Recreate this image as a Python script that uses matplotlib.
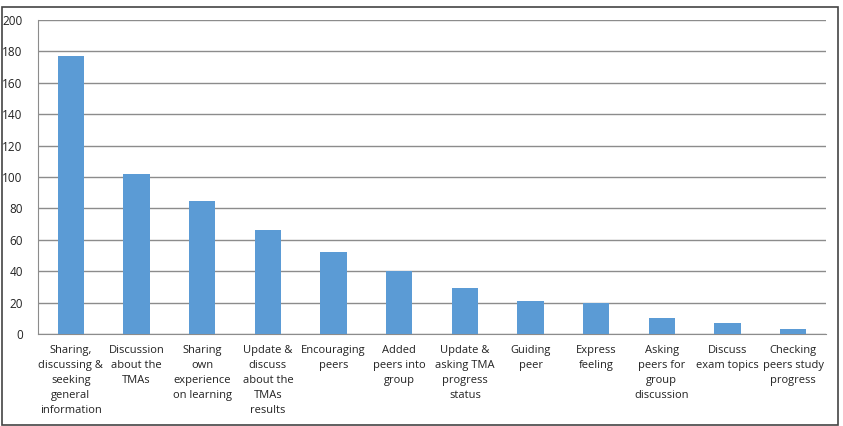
import matplotlib
matplotlib.use("Agg")
import matplotlib.pyplot as plt
import numpy as np
from matplotlib.patches import Rectangle

# ── Data ───────────────────────────────────────────────────────────────────────
categories = [
    "Sharing,\ndiscussing &\nseeking\ngeneral\ninformation",
    "Discussion\nabout the\nTMAs",
    "Sharing\nown\nexperience\non learning",
    "Update &\ndiscuss\nabout the\nTMAs\nresults",
    "Encouraging\npeers",
    "Added\npeers into\ngroup",
    "Update &\nasking TMA\nprogress\nstatus",
    "Guiding\npeer",
    "Express\nfeeling",
    "Asking\npeers for\ngroup\ndiscussion",
    "Discuss\nexam topics",
    "Checking\npeers study\nprogress",
]
counts = [177, 102, 85, 66, 52, 40, 29, 21, 20, 10, 7, 3]
yticks = [0, 20, 40, 60, 80, 100, 120, 140, 160, 180, 200]

# ── Style ──────────────────────────────────────────────────────────────────────
plt.rcParams.update({
    "font.family": ["Open Sans", "DejaVu Sans"],
    "font.size": 8,
})
BAR = "#5b9bd5"
GRID = "#8c8c8c"

fig = plt.figure(figsize=(8.43, 4.26), dpi=100)
ax = fig.add_axes([38 / 843, 1 - 334 / 426, (826 - 38) / 843, (334 - 20) / 426])

x = np.arange(len(counts))
ax.bar(x, counts, width=0.4, color=BAR, zorder=3)

ax.set_xlim(-0.5, len(counts) - 0.5)
ax.set_ylim(0, 200)
ax.set_yticks(yticks)
ax.set_xticks(x)
ax.set_xticklabels(categories, linespacing=1.5)
ax.yaxis.grid(True, color=GRID, linewidth=1, zorder=0)
ax.tick_params(axis="both", length=0, colors="#222222")
ax.tick_params(axis="y", pad=11, labelsize=8.5)
ax.tick_params(axis="x", pad=8)

for s in ["top", "right"]:
    ax.spines[s].set_visible(False)
ax.spines["left"].set_color(GRID)
ax.spines["bottom"].set_color(GRID)

# outer frame round the chart
fig.patches.append(Rectangle((2 / 843, 1 / 426), 836 / 843, 418 / 426,
                             transform=fig.transFigure, fill=False,
                             edgecolor="#444444", linewidth=1.2))

fig.savefig("out.png", dpi=100)
